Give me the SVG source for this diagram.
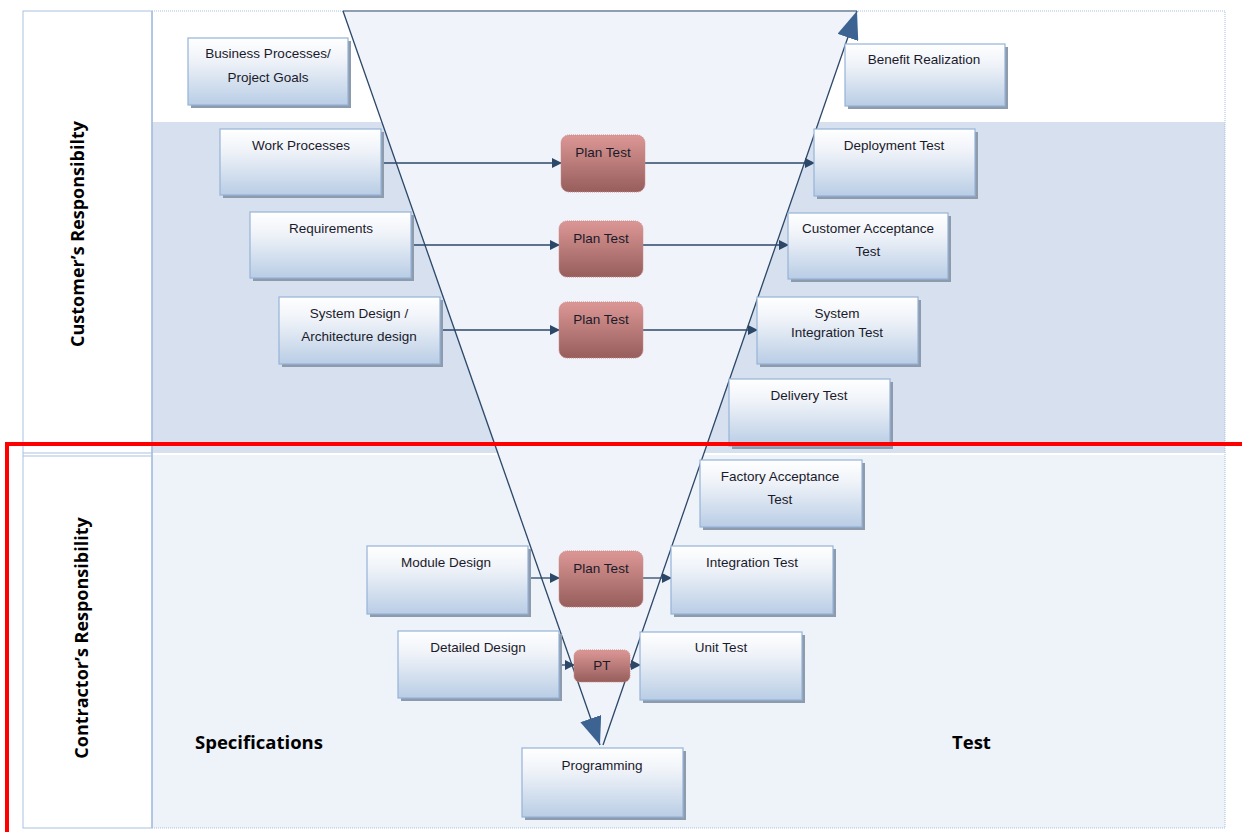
<svg xmlns="http://www.w3.org/2000/svg" width="1242" height="832" viewBox="0 0 1242 832">
<defs>
<linearGradient id="gb" x1="0" y1="0" x2="0" y2="1"><stop offset="0" stop-color="#ffffff"/><stop offset="0.35" stop-color="#eef2f8"/><stop offset="1" stop-color="#b9cde5"/></linearGradient>
<linearGradient id="gr" x1="0" y1="0" x2="0" y2="1"><stop offset="0" stop-color="#dc9795"/><stop offset="1" stop-color="#965e5c"/></linearGradient>
<marker id="a" markerWidth="10" markerHeight="10" refX="9" refY="5" orient="auto" markerUnits="userSpaceOnUse"><path d="M0,0 L10,5 L0,10 z" fill="#2c4767"/></marker>
<marker id="big" markerWidth="28" markerHeight="22" refX="28" refY="11" orient="auto" markerUnits="userSpaceOnUse" viewBox="0 0 28 22"><path d="M0,0 L28,11 L0,22 z" fill="#3c6391"/></marker>
</defs>
<style>
.box{fill:url(#gb);stroke:#95b3d7;stroke-width:1.2}
.sh{fill:#8d9bad}
.pt{fill:url(#gr);stroke:#c88a88;stroke-width:1;stroke-dasharray:1 1}
.t{font-family:"Liberation Sans",Arial,sans-serif;font-size:13.5px;fill:#1a1a2a;text-anchor:middle}
.lbl{font-family:"Open Sans","Liberation Sans",sans-serif;font-weight:bold;font-size:18px;fill:#000}
.conn{stroke:#2c4767;stroke-width:1.3;fill:none}
</style>
<rect x="0" y="0" width="1242" height="832" fill="#ffffff"/>
<!-- background bands -->
<rect x="152" y="11" width="1073" height="111" fill="#ffffff"/>
<rect x="152" y="122" width="1073" height="331" fill="#d6e0ee"/>
<rect x="152" y="455" width="1073" height="373" fill="#eef2f9"/>
<rect x="152" y="11" width="1073" height="817" fill="none" stroke="#a9c1e0" stroke-width="1" stroke-dasharray="1 1"/>
<!-- left column -->
<rect x="23" y="11" width="129" height="817" fill="#ffffff" stroke="#a9c1e0" stroke-width="1"/>
<line x1="23" y1="453" x2="152" y2="453" stroke="#a9c1e0" stroke-width="1"/>
<line x1="23" y1="456" x2="152" y2="456" stroke="#a9c1e0" stroke-width="1"/>
<line x1="152" y1="11" x2="152" y2="828" stroke="#a9c1e0" stroke-width="1.5"/>
<text class="lbl" transform="translate(84,234) rotate(-90)" text-anchor="middle">Customer’s Responsibilty</text>
<text class="lbl" transform="translate(88,638) rotate(-90)" text-anchor="middle">Contractor’s Responsibility</text>
<!-- V shape -->
<polygon points="343,11 857,11 602,745" fill="#f0f4fa"/>
<line x1="343" y1="11" x2="857" y2="11" stroke="#8e9db0" stroke-width="2"/>
<g id="connectors">
<line class="conn" x1="343" y1="11" x2="600" y2="745" marker-end="url(#big)" stroke="#3c5a7e"/>
<line class="conn" x1="603" y1="745" x2="857" y2="11" marker-end="url(#big)" stroke="#3c5a7e"/>
<line class="conn" x1="381" y1="163" x2="561" y2="163" marker-end="url(#a)"/>
<line class="conn" x1="645" y1="163" x2="814" y2="163" marker-end="url(#a)"/>
<line class="conn" x1="411" y1="245" x2="559" y2="245" marker-end="url(#a)"/>
<line class="conn" x1="643" y1="245" x2="788" y2="245" marker-end="url(#a)"/>
<line class="conn" x1="440" y1="330" x2="559" y2="330" marker-end="url(#a)"/>
<line class="conn" x1="643" y1="330" x2="757" y2="330" marker-end="url(#a)"/>
<line class="conn" x1="528" y1="578" x2="559" y2="578" marker-end="url(#a)"/>
<line class="conn" x1="643" y1="578" x2="671" y2="578" marker-end="url(#a)"/>
<line class="conn" x1="559" y1="665" x2="574" y2="665" marker-end="url(#a)"/>
<line class="conn" x1="630" y1="665" x2="640" y2="665" marker-end="url(#a)"/>
</g>
<!-- nodes -->
<g id="n-business"><rect class="sh" x="191" y="41" width="160" height="67"/><rect class="box" x="188" y="38" width="160" height="67"/><text class="t" x="268" y="58">Business Processes/</text><text class="t" x="268" y="82">Project Goals</text></g>
<g id="n-benefit"><rect class="sh" x="848" y="47" width="160" height="62"/><rect class="box" x="845" y="44" width="160" height="62"/><text class="t" x="924" y="64">Benefit Realization</text></g>
<g id="n-work"><rect class="sh" x="223" y="132" width="161" height="66"/><rect class="box" x="220" y="129" width="161" height="66"/><text class="t" x="301" y="150">Work Processes</text></g>
<g id="n-deploy"><rect class="sh" x="817" y="132" width="161" height="67"/><rect class="box" x="814" y="129" width="161" height="67"/><text class="t" x="894" y="150">Deployment Test</text></g>
<g id="n-req"><rect class="sh" x="253" y="215" width="161" height="66"/><rect class="box" x="250" y="212" width="161" height="66"/><text class="t" x="331" y="233">Requirements</text></g>
<g id="n-cat"><rect class="sh" x="791" y="216" width="160" height="66"/><rect class="box" x="788" y="213" width="160" height="66"/><text class="t" x="868" y="233">Customer Acceptance</text><text class="t" x="868" y="256">Test</text></g>
<g id="n-sysdes"><rect class="sh" x="282" y="300" width="161" height="67"/><rect class="box" x="279" y="297" width="161" height="67"/><text class="t" x="359" y="318">System Design /</text><text class="t" x="359" y="341">Architecture design</text></g>
<g id="n-sit"><rect class="sh" x="760" y="300" width="161" height="67"/><rect class="box" x="757" y="297" width="161" height="67"/><text class="t" x="837" y="318">System</text><text class="t" x="837" y="337">Integration Test</text></g>
<g id="n-delivery"><rect class="sh" x="732" y="382" width="161" height="67"/><rect class="box" x="729" y="379" width="161" height="67"/><text class="t" x="809" y="400">Delivery Test</text></g>
<g id="n-fat"><rect class="sh" x="703" y="463" width="162" height="67"/><rect class="box" x="700" y="460" width="162" height="67"/><text class="t" x="780" y="481">Factory Acceptance</text><text class="t" x="780" y="504">Test</text></g>
<g id="n-module"><rect class="sh" x="370" y="549" width="161" height="68"/><rect class="box" x="367" y="546" width="161" height="68"/><text class="t" x="446" y="567">Module Design</text></g>
<g id="n-int"><rect class="sh" x="674" y="549" width="162" height="68"/><rect class="box" x="671" y="546" width="162" height="68"/><text class="t" x="752" y="567">Integration Test</text></g>
<g id="n-detailed"><rect class="sh" x="401" y="634" width="161" height="67"/><rect class="box" x="398" y="631" width="161" height="67"/><text class="t" x="478" y="652">Detailed Design</text></g>
<g id="n-unit"><rect class="sh" x="643" y="635" width="162" height="68"/><rect class="box" x="640" y="632" width="162" height="68"/><text class="t" x="721" y="652">Unit Test</text></g>
<g id="n-prog"><rect class="sh" x="525" y="751" width="161" height="69"/><rect class="box" x="522" y="748" width="161" height="69"/><text class="t" x="602" y="770">Programming</text></g>
<g id="n-pt1"><rect class="pt" x="561" y="135" width="84" height="57" rx="8"/><text class="t" x="603" y="157">Plan Test</text></g>
<g id="n-pt2"><rect class="pt" x="559" y="221" width="84" height="56" rx="8"/><text class="t" x="601" y="243">Plan Test</text></g>
<g id="n-pt3"><rect class="pt" x="559" y="302" width="84" height="56" rx="8"/><text class="t" x="601" y="324">Plan Test</text></g>
<g id="n-pt4"><rect class="pt" x="559" y="551" width="84" height="56" rx="8"/><text class="t" x="601" y="573">Plan Test</text></g>
<g id="n-pt5"><rect class="pt" x="574" y="650" width="56" height="32" rx="6"/><text class="t" x="602" y="670">PT</text></g>
<text class="lbl" x="195" y="749" style="font-size:18.5px">Specifications</text>
<text class="lbl" x="952" y="749" style="font-size:18.5px">Test</text>
<!-- red boundary -->
<polyline points="7,832 7,444 1242,444" fill="none" stroke="#ff0000" stroke-width="4"/>
</svg>
